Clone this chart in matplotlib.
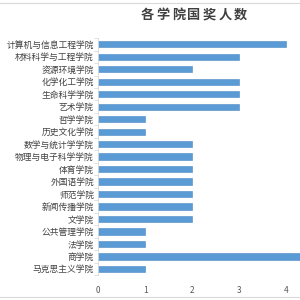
import matplotlib.pyplot as plt
from matplotlib.patches import Rectangle

plt.rcParams['font.family'] = ['Noto Sans CJK SC', 'DejaVu Sans']

title = '各学院国奖人数'
colleges = ['计算机与信息工程学院', '材料科学与工程学院', '资源环境学院', '化学化工学院',
            '生命科学学院', '艺术学院', '哲学学院', '历史文化学院', '数学与统计学学院',
            '物理与电子科学学院', '体育学院', '外国语学院', '师范学院', '新闻传播学院',
            '文学院', '公共管理学院', '法学院', '商学院', '马克思主义学院']
awards = [4, 3, 2, 3, 3, 3, 1, 1, 2, 2, 2, 2, 2, 2, 2, 1, 1, 5, 1]

fig = plt.figure(figsize=(3, 3), dpi=100)
ax = fig.add_axes([0.327, 0.083, 0.673, 0.79])

pos = list(range(len(colleges)))[::-1]
ax.barh(pos, awards, height=0.5, color='#5b9bd5', edgecolor='#4a89c8', linewidth=0.4)

ax.set_xlim(0, 4.3)
ax.set_ylim(-0.5, len(colleges) - 0.5)
ax.set_yticks(pos)
ax.set_yticklabels(colleges, fontsize=6.3, color='#404040')
ax.set_xticks([0, 1, 2, 3, 4])
ax.tick_params(axis='x', length=0, labelsize=6, labelcolor='#595959', pad=8)
ax.tick_params(axis='y', length=0, pad=3)
ax.set_yticks([p - 0.5 for p in range(len(colleges) + 1)], minor=True)
ax.tick_params(axis='y', which='minor', length=3, color='#d9d9d9', width=0.6)

for s in ['top', 'right', 'bottom']:
    ax.spines[s].set_visible(False)
ax.spines['left'].set_color('#d9d9d9')
ax.spines['left'].set_linewidth(0.6)

# title with wide letter spacing
for i, ch in enumerate(title):
    fig.text((194 + (i - 3) * 15.5) / 300, 0.95, ch, ha='center', va='center',
             fontsize=9.5, fontweight='bold', color='#404040')

fig.patches.append(Rectangle((-0.01, 0.01), 1.02, 0.98, transform=fig.transFigure,
                             fill=False, edgecolor='#d9d9d9', linewidth=0.8))

fig.savefig('out.png', dpi=100)
